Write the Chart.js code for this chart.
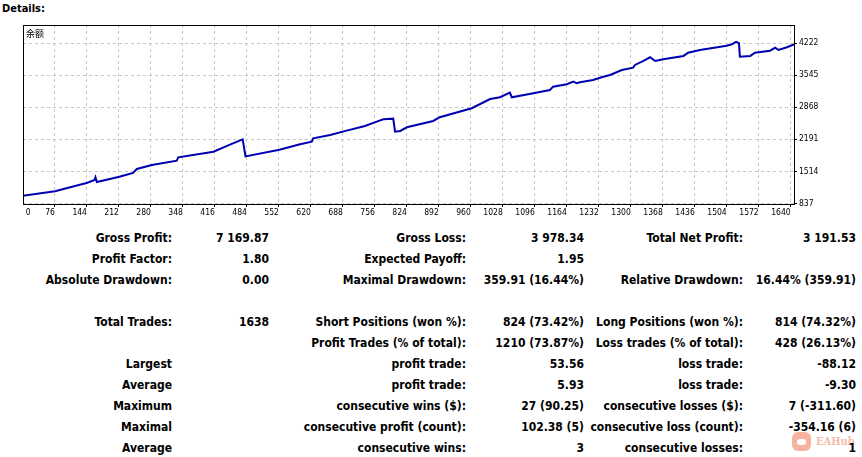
<!DOCTYPE html>
<html>
<head>
<meta charset="utf-8">
<script src="https://cdn.jsdelivr.net/npm/chart.js@4.4.0/dist/chart.umd.min.js"></script>
<style>
  body { margin: 0; background: #fff; width: 862px; height: 457px; overflow: hidden; position: relative; }
  #title { position: absolute; left: 2px; top: 3px; font: bold 11px/11px "DejaVu Sans Condensed", "DejaVu Sans", sans-serif; color: #000; }
  #chartBox { position: absolute; left: 0; top: 0; width: 862px; height: 225px; }
  .cell { position: absolute; height: 21px; line-height: 21px; white-space: nowrap; text-align: right;
          font: bold 12px/21px "DejaVu Sans Condensed", "DejaVu Sans", sans-serif; color: #000; z-index: 2; }
  #mark { position: absolute; left: 790px; top: 431px; width: 72px; height: 22px; z-index: 1; opacity: 0.75; }
  #mark .pig { position: absolute; left: 2px; top: 1px; width: 19px; height: 19px; border-radius: 6px; background: #f39a80; }
  #mark .pig:after { content: ""; position: absolute; left: 5px; top: 7px; width: 9px; height: 6px; border-radius: 3px; background: #fff; }
  #mark .txt { position: absolute; left: 26px; top: 4px; white-space: nowrap; font: bold 11px/14px "DejaVu Serif Condensed", "DejaVu Serif", serif; color: #f3a48e; }
</style>
</head>
<body>
<div id="title">Details:</div>
<div id="chartBox"><canvas id="balanceChart" width="862" height="225"></canvas></div>
<div id="stats"></div>
<div id="mark"><div class="pig"></div><div class="txt">EAHub</div></div>
<script>
// balance curve (trade number, balance)
const trades = [8, 76, 145, 160, 162, 165, 213, 242, 250, 282, 335, 338, 413, 448, 475, 481, 553, 597,
  622, 625, 661, 696, 735, 760, 774, 795, 799, 810, 824, 880, 894, 962, 1001, 1022, 1043, 1047,
  1093, 1128, 1135, 1164, 1178, 1185, 1192, 1220, 1238, 1256, 1281, 1305, 1309, 1327, 1341, 1352,
  1369, 1412, 1422, 1447, 1504, 1515, 1524, 1530, 1532, 1554, 1564, 1596, 1607, 1614, 1632, 1647];
const balance = [1000, 1092, 1274, 1331, 1388, 1289, 1401, 1479, 1563, 1648, 1738, 1810, 1928, 2076, 2189, 1829, 1971, 2085,
  2140, 2211, 2281, 2372, 2471, 2562, 2612, 2625, 2351, 2365, 2443, 2576, 2655, 2845, 3039, 3077, 3174, 3077,
  3161, 3231, 3301, 3351, 3406, 3372, 3393, 3442, 3499, 3548, 3653, 3702, 3759, 3843, 3921, 3843,
  3879, 3949, 4018, 4075, 4166, 4196, 4244, 4217, 3934, 3949, 4018, 4060, 4124, 4075, 4132, 4192];

const xTicks = [0, 76, 144, 212, 280, 348, 416, 484, 552, 620, 688, 756, 824, 892, 960, 1028, 1096,
  1164, 1232, 1300, 1368, 1436, 1504, 1572, 1640];
const yTicks = [837, 1514, 2191, 2868, 3545, 4222];
const seriesName = "余额";

// stats table
const statLabels1 = ["Gross Profit:", "Profit Factor:", "Absolute Drawdown:", "", "Total Trades:", "", "Largest", "Average", "Maximum", "Maximal", "Average"];
const statValues1 = ["7 169.87", "1.80", "0.00", "", "1638", "", "", "", "", "", ""];
const statLabels2 = ["Gross Loss:", "Expected Payoff:", "Maximal Drawdown:", "", "Short Positions (won %):", "Profit Trades (% of total):",
  "profit trade:", "profit trade:", "consecutive wins ($):", "consecutive profit (count):", "consecutive wins:"];
const statValues2 = ["3 978.34", "1.95", "359.91 (16.44%)", "", "824 (73.42%)", "1210 (73.87%)", "53.56", "5.93", "27 (90.25)", "102.38 (5)", "3"];
const statLabels3 = ["Total Net Profit:", "", "Relative Drawdown:", "", "Long Positions (won %):", "Loss trades (% of total):",
  "loss trade:", "loss trade:", "consecutive losses ($):", "consecutive loss (count):", "consecutive losses:"];
const statValues3 = ["3 191.53", "", "16.44% (359.91)", "", "814 (74.32%)", "428 (26.13%)", "-88.12", "-9.30", "7 (-311.60)", "-354.16 (6)", "1"];

const columns = [statLabels1, statValues1, statLabels2, statValues2, statLabels3, statValues3];
const colRight = [172, 269, 466, 584, 743, 856];
const stats = document.getElementById("stats");
columns.forEach((col, c) => {
  col.forEach((text, r) => {
    if (!text) return;
    const d = document.createElement("div");
    d.className = "cell";
    d.textContent = text;
    d.style.right = (862 - colRight[c]) + "px";
    d.style.top = (227.7 + r * 21) + "px";
    stats.appendChild(d);
  });
});

const zeroLabelAt = 24; // "0" label sits just right of the left border
const gridGrey = "#c8c8c8";
const hideZero = (ctx, color) => (ctx.tick && ctx.tick.value === zeroLabelAt) ? "rgba(0,0,0,0)" : color;
const tickFont = { family: "DejaVu Sans Condensed", size: 8.5 };

const framePlugin = {
  id: "frame",
  afterDraw(chart) {
    const { ctx, chartArea: a } = chart;
    ctx.save();
    ctx.setLineDash([]);
    ctx.strokeStyle = "#000";
    ctx.lineWidth = 1;
    ctx.strokeRect(Math.round(a.left) + 0.5, Math.round(a.top) + 0.5, Math.round(a.right - a.left), Math.round(a.bottom - a.top));
    ctx.fillStyle = "#000";
    ctx.font = '9px "Noto Sans CJK SC"';
    ctx.textBaseline = "middle";
    ctx.fillText(seriesName, a.left + 3, a.top + 8.5);
    ctx.restore();
  }
};

new Chart(document.getElementById("balanceChart"), {
  type: "line",
  data: {
    datasets: [{
      label: seriesName,
      data: trades.map((t, i) => ({ x: t, y: balance[i] })),
      borderColor: "#0000b0",
      borderWidth: 2,
      pointRadius: 0,
      tension: 0,
      fill: false
    }]
  },
  options: {
    responsive: false,
    animation: false,
    layout: { padding: { left: 23, top: 25, right: 0, bottom: 0 } },
    plugins: { legend: { display: false }, tooltip: { enabled: false } },
    scales: {
      x: {
        type: "linear",
        min: 8,
        max: 1647,
        afterBuildTicks: s => { s.ticks = xTicks.map(t => ({ value: t === 0 ? zeroLabelAt : t })); },
        afterFit: s => { s.height = 21; },
        grid: {
          color: ctx => hideZero(ctx, gridGrey),
          tickColor: ctx => hideZero(ctx, "#000"),
          tickLength: 3,
          lineWidth: 1
        },
        border: { display: true, color: "#000", dash: [3, 3] },
        ticks: {
          autoSkip: false,
          maxRotation: 0,
          minRotation: 0,
          align: "end",
          padding: 1,
          color: "#000",
          font: tickFont,
          callback: v => v === zeroLabelAt ? "0" : String(v)
        }
      },
      y: {
        type: "linear",
        position: "right",
        min: 824,
        max: 4602,
        afterBuildTicks: s => { s.ticks = yTicks.map(v => ({ value: v })); },
        afterFit: s => { s.width = 68; },
        grid: { color: gridGrey, tickColor: "#000", tickLength: 3, lineWidth: 1 },
        border: { display: true, color: "#000", dash: [3, 3] },
        ticks: {
          padding: 2,
          color: "#000",
          font: tickFont,
          callback: v => String(v)
        }
      }
    }
  },
  plugins: [framePlugin]
});
</script>
</body>
</html>
